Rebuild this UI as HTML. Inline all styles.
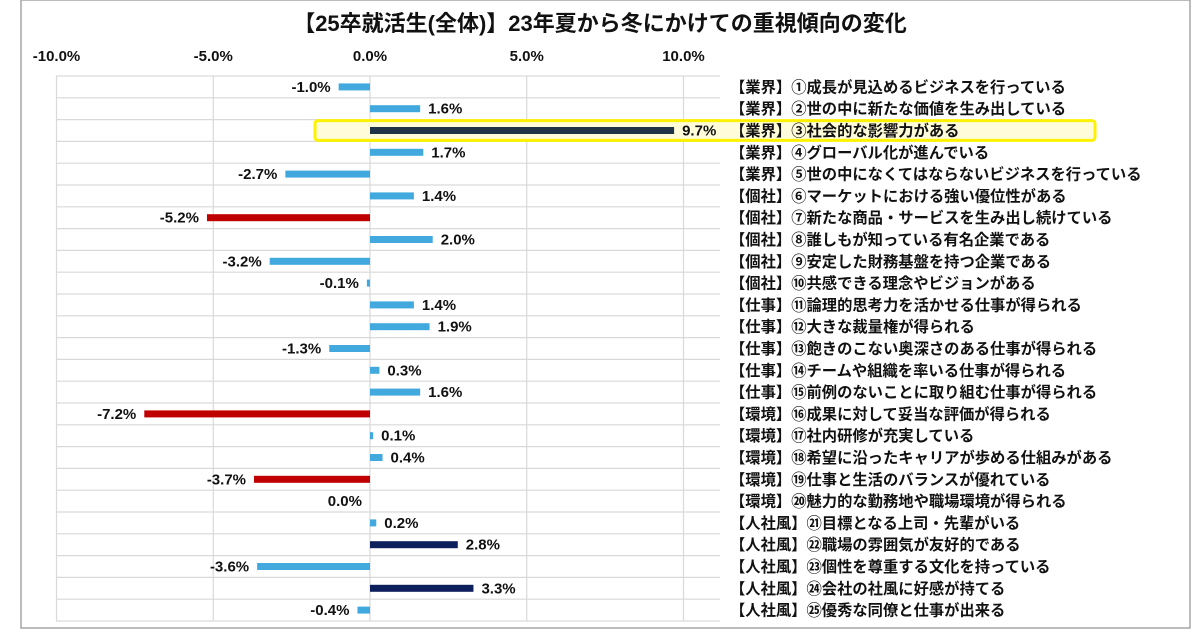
<!DOCTYPE html>
<html><head><meta charset="utf-8"><style>
body{margin:0;background:#fff;}
svg text{font-family:"Liberation Sans","Noto Sans CJK JP",sans-serif;font-weight:bold;fill:#111;}
</style></head><body>
<svg width="1200" height="630" xmlns="http://www.w3.org/2000/svg">
<rect x="21" y="0" width="1169" height="628" fill="#fff" stroke="#a6a6a6" stroke-width="1.5"/>
<text x="600" y="31" text-anchor="middle" font-size="22">【25卒就活生(全体)】23年夏から冬にかけての重視傾向の変化</text>
<g id="grid"></g><g id="hl"></g><g id="bars"></g><g id="labels"></g>
</svg>
<script>
const categories=["【業界】①成長が見込めるビジネスを行っている","【業界】②世の中に新たな価値を生み出している","【業界】③社会的な影響力がある","【業界】④グローバル化が進んでいる","【業界】⑤世の中になくてはならないビジネスを行っている","【個社】⑥マーケットにおける強い優位性がある","【個社】⑦新たな商品・サービスを生み出し続けている","【個社】⑧誰しもが知っている有名企業である","【個社】⑨安定した財務基盤を持つ企業である","【個社】⑩共感できる理念やビジョンがある","【仕事】⑪論理的思考力を活かせる仕事が得られる","【仕事】⑫大きな裁量権が得られる","【仕事】⑬飽きのこない奥深さのある仕事が得られる","【仕事】⑭チームや組織を率いる仕事が得られる","【仕事】⑮前例のないことに取り組む仕事が得られる","【環境】⑯成果に対して妥当な評価が得られる","【環境】⑰社内研修が充実している","【環境】⑱希望に沿ったキャリアが歩める仕組みがある","【環境】⑲仕事と生活のバランスが優れている","【環境】⑳魅力的な勤務地や職場環境が得られる","【人社風】㉑目標となる上司・先輩がいる","【人社風】㉒職場の雰囲気が友好的である","【人社風】㉓個性を尊重する文化を持っている","【人社風】㉔会社の社風に好感が持てる","【人社風】㉕優秀な同僚と仕事が出来る"];
const values=[-1.0,1.6,9.7,1.7,-2.7,1.4,-5.2,2.0,-3.2,-0.1,1.4,1.9,-1.3,0.3,1.6,-7.2,0.1,0.4,-3.7,0.0,0.2,2.8,-3.6,3.3,-0.4];
const seriesColor=["blue","blue","slate","blue","blue","blue","red","blue","blue","blue","blue","blue","blue","blue","blue","red","blue","blue","red","blue","blue","navy","blue","navy","blue"];
const ticks=[-10,-5,0,5,10];
const palette={blue:"#41a9dd",red:"#c00000",slate:"#1f3447",navy:"#0c1e5b"};
const highlightIndex=2;
const NS="http://www.w3.org/2000/svg";
const x0=56,xR=720,yTop=76,yBot=621,rh=(yBot-yTop)/categories.length;
const X=v=>370+v*31.35;
const Y=i=>yTop+i*rh;
function el(t,a,p){const e=document.createElementNS(NS,t);for(const k in a)e.setAttribute(k,a[k]);document.getElementById(p).appendChild(e);return e;}
for(let i=0;i<=categories.length;i++){const l=el('line',{x1:x0,x2:xR,y1:Y(i),y2:Y(i),stroke:'#d9d9d9','stroke-width':1.2},'grid');

}
ticks.forEach(t=>{const l=el('line',{x1:X(t),x2:X(t),y1:yTop,y2:yBot,stroke:'#d9d9d9','stroke-width':1.2},'grid');


const tx=el('text',{x:X(t),y:61,'text-anchor':'middle','font-size':15},'grid');tx.textContent=t.toFixed(1)+'%';

});
const h=el('rect',{x:315,y:Y(highlightIndex)+1,width:780,height:rh-2,rx:3,fill:'#fffcd9',stroke:'#fff200','stroke-width':3},'hl');


values.forEach((v,i)=>{const cy=Y(i)+rh/2;const a=X(Math.min(0,v)),b=X(Math.max(0,v));
const r=el('rect',{x:a,y:cy-3.5,width:Math.max(b-a,0),height:7,fill:palette[seriesColor[i]]},'bars');


const lx=v>0?X(v)+8:X(v)-8;
const t=el('text',{x:lx,y:cy+5,'text-anchor':v>0?'start':'end','font-size':15},'labels');t.textContent=v.toFixed(1)+'%';


const c=el('text',{x:730,y:cy+5.5,'font-size':15.3},'labels');c.textContent=categories[i];

});
</script>
</body></html>
